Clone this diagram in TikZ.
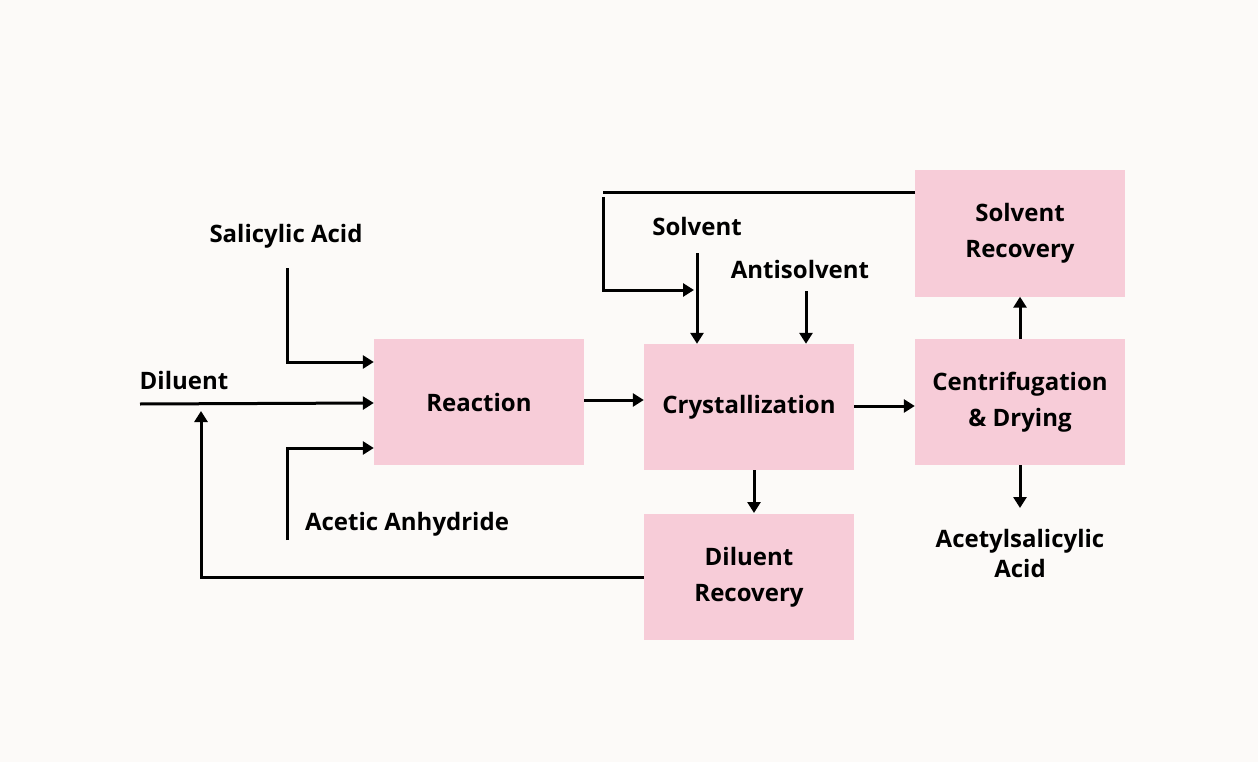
\documentclass[tikz,border=0pt]{standalone}
\usepackage{fontspec}
\setmainfont{Open Sans}
\usetikzlibrary{arrows.meta}
\definecolor{bg}{HTML}{FCFAF8}
\definecolor{boxc}{HTML}{F7CCD8}
\begin{document}
\begin{tikzpicture}[x=1pt,y=-1pt,
  box/.style={fill=boxc,draw=none,minimum width=210pt,minimum height=126pt,align=center,font=\fontsize{24}{36}\selectfont\bfseries},
  lab/.style={font=\fontsize{24}{30}\selectfont\bfseries,align=center,inner sep=0},
  flow/.style={line width=3pt,-{Triangle[length=11pt,width=13pt]}},
  line/.style={line width=3pt}]
\fill[bg] (0,0) rectangle (1258,762);
\useasboundingbox (0,0) rectangle (1258,762);
\node[box] (R) at (479,402) {Reaction};
\node[box] (C) at (749,407) {Crystallization};
\node[box] (CD) at (1020,402) {Centrifugation\\\& Drying};
\node[box] (SR) at (1020,233.5) {Solvent\\Recovery};
\node[box] (DR) at (749,577) {Diluent\\Recovery};
\node[lab] (sa) at (286,236) {Salicylic Acid};
\node[lab] (dil) at (184,380) {Diluent};
\node[lab] (aa) at (407,524) {Acetic Anhydride};
\node[lab] (sol) at (697,227) {Solvent};
\node[lab] (anti) at (800,269) {Antisolvent};
\node[lab] (asa) at (1020,553) {Acetylsalicylic\\Acid};
\coordinate (sa0) at (287,268);
\coordinate (dil0) at (140,404);
\coordinate (aa0) at (287,540);
\coordinate (s0) at (697,253);
\coordinate (a0) at (806,291);
\coordinate (rA) at (603,193);
\coordinate (rB) at (603,290);
\coordinate (dA) at (201,577);
\draw[flow] (sa0) |- (R.west |- 0,362);
\draw[flow] (dil0) -- (R.west |- 0,403);
\draw[flow] (aa0) |- (R.west |- 0,448);
\draw[flow] (R.east |- 0,400) -- (C.west |- 0,400);
\draw[flow] (C.east |- 0,406) -- (CD.west |- 0,406);
\draw[flow] (s0) -- (C.north -| s0);
\draw[flow] (a0) -- (C.north -| a0);
\draw[line] (SR.west |- rA) -- (rA);
\draw[flow] (603,197) -- (rB) -- (694,290);
\draw[flow] (CD.north) -- (SR.south);
\draw[flow] (CD.south) -- (1020,508);
\draw[flow] (C.south -| 754,0) -- (754,513);
\draw[flow] (DR.west) -- (dA) -- (201,411);
\end{tikzpicture}
\end{document}
